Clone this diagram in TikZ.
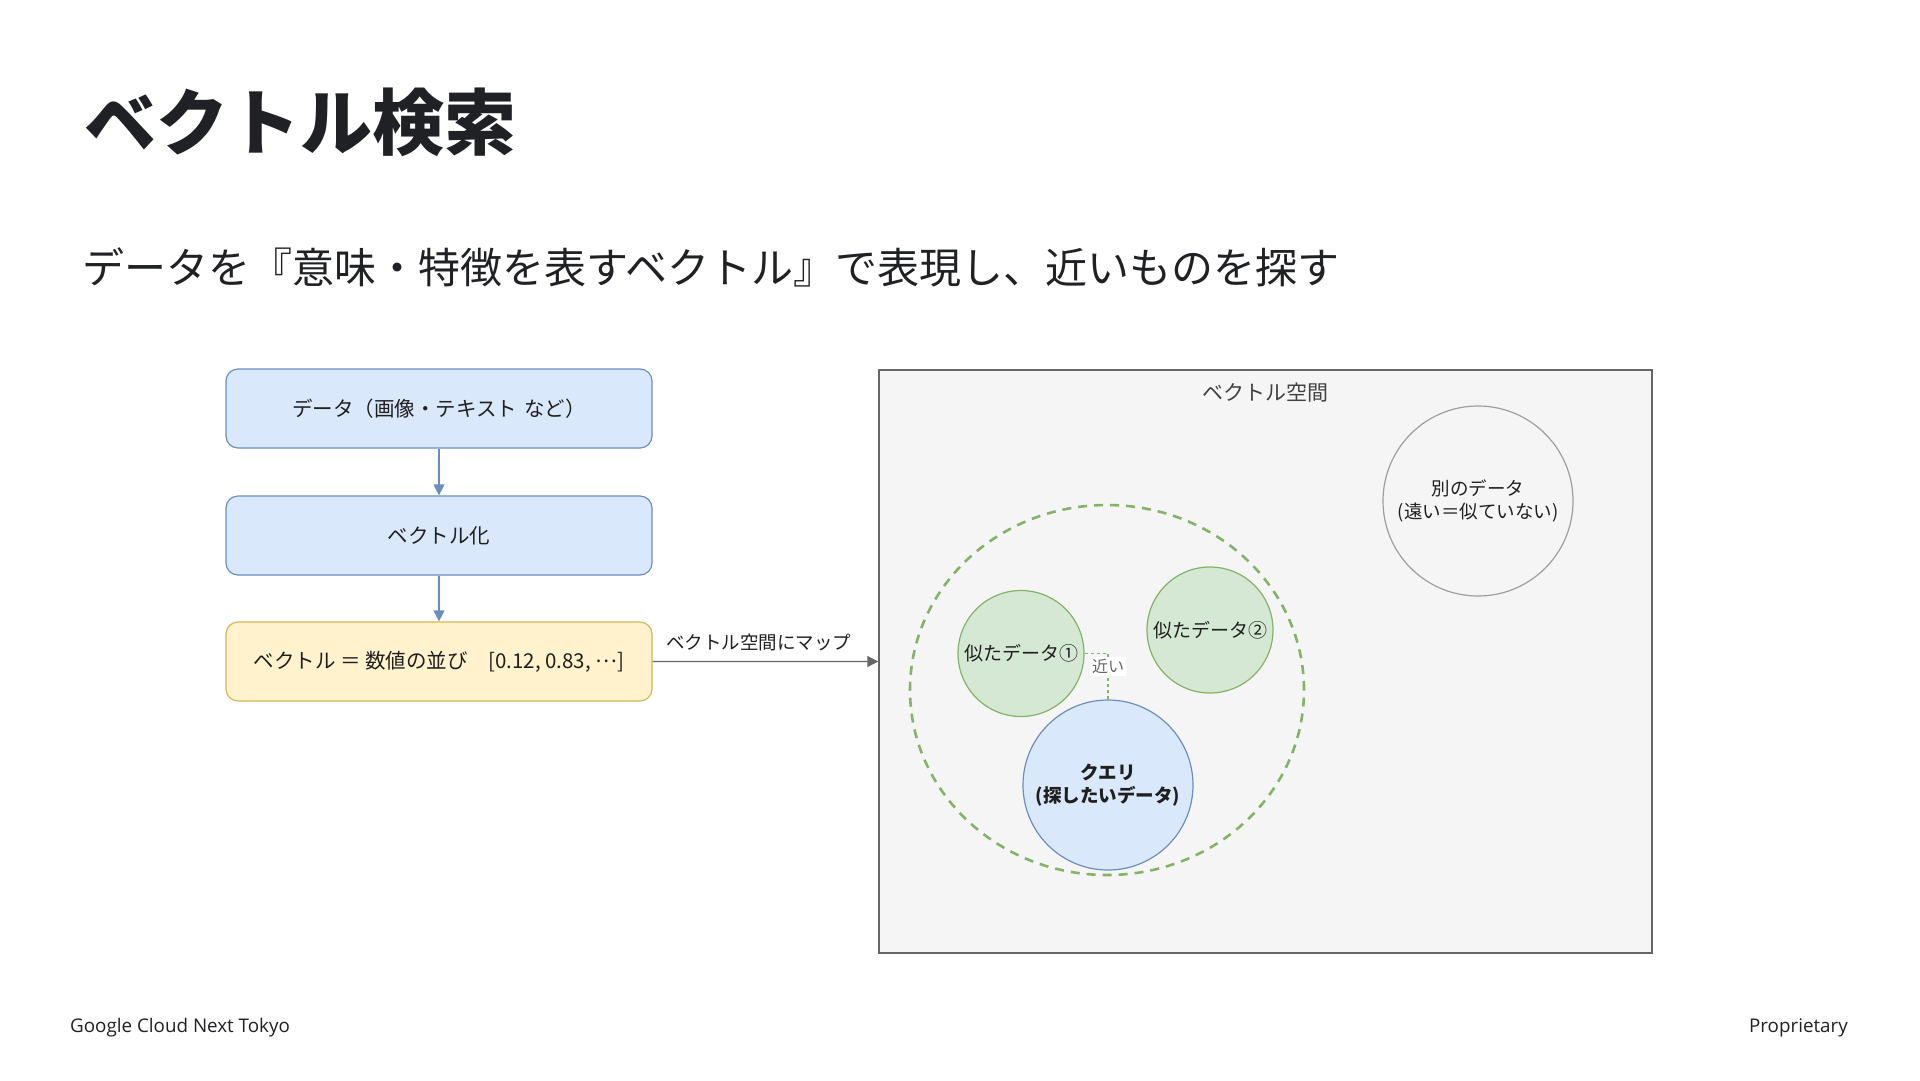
\documentclass[tikz,border=0pt]{standalone}
\usepackage{fontspec}
\setmainfont{Noto Sans CJK JP}
\newfontfamily\footfont{Open Sans}
\usetikzlibrary{positioning,arrows.meta,shapes.geometric}
\definecolor{blueFill}{HTML}{DAE8FC}
\definecolor{blueLine}{HTML}{6C8EBF}
\definecolor{yellowFill}{HTML}{FFF2CC}
\definecolor{yellowLine}{HTML}{D6B656}
\definecolor{greenFill}{HTML}{D5E8D4}
\definecolor{greenLine}{HTML}{82B366}
\definecolor{spaceFill}{HTML}{F5F5F5}
\definecolor{spaceLine}{HTML}{666666}
\definecolor{farLine}{HTML}{9E9E9E}
\definecolor{txt}{HTML}{1F1F1F}
\definecolor{titleTxt}{HTML}{202124}
\newcommand\fsize[2]{\fontsize{#1}{#2}\selectfont}

\begin{document}
\begin{tikzpicture}[
    x=1pt, y=-1pt,
    stepbox/.style = {draw=blueLine, fill=blueFill, rounded corners=12pt, line width=1.2pt,
        minimum width=426pt, minimum height=79pt, font=\fsize{20.5}{24}, text=txt},
    vecbox/.style = {stepbox, draw=yellowLine, fill=yellowFill},
    flow/.style = {-{Stealth[length=11pt,width=11pt,inset=0pt]}, draw=blueLine, line width=1.2pt},
    maparrow/.style = {-{Stealth[length=11pt,width=11pt,inset=0pt]}, draw=spaceLine, line width=1.2pt},
    maplbl/.style = {fill=white, inner sep=2pt, font=\fsize{18.5}{22}, text=txt},
    space/.style = {draw=spaceLine, fill=spaceFill, line width=1.5pt,
        minimum width=773pt, minimum height=583pt},
    cluster/.style = {ellipse, draw=greenLine, dash pattern=on 9pt off 7pt, line width=2.6pt,
        minimum width=394pt, minimum height=370pt},
    simdata/.style = {circle, draw=greenLine, fill=greenFill, line width=1.2pt, inner sep=0pt,
        minimum size=126pt, font=\fsize{19}{23}, text=txt, align=center},
    querydata/.style = {simdata, draw=blueLine, fill=blueFill, minimum size=170pt,
        font=\bfseries\fsize{18.5}{23}},
    fardata/.style = {simdata, draw=farLine, fill=none, minimum size=190pt, font=\fsize{18.5}{23}},
    nearline/.style = {draw=greenLine, dash pattern=on 3pt off 3pt, line width=1.2pt},
    nearlbl/.style = {fill=white, inner sep=2pt, font=\fsize{16}{19}, text=spaceLine}
  ]
  \useasboundingbox[fill=white] (0,0) rectangle (1920,1080);

  \node[anchor=west, inner sep=0pt, font=\bfseries\fsize{72}{86}, text=titleTxt] (title) at (84,122) {ベクトル検索};
  \node[anchor=west, inner sep=0pt, font=\fsize{42}{50}, text=titleTxt] (subtitle) at (82,267)
    {データを『意味・特徴を表すベクトル』で表現し、近いものを探す};

  % pipeline
  \node[stepbox] (data) at (439,408.5) {データ（画像・テキスト\,\,など）};
  \node[stepbox, below=46.8pt of data] (vectorize) {ベクトル化};
  \node[vecbox, below=45.8pt of vectorize] (vector) {ベクトル ＝ 数値の並び　[0.12, 0.83, \raisebox{0.3em}{…}]};
  \draw[flow] (data) -- (vectorize);
  \draw[flow] (vectorize) -- (vector);

  % vector space
  \node[space] (space) at (1265.5,661.5) {};
  \node[font=\fsize{21}{25}, text=txt!85] (spacelbl) at (1265,393) {ベクトル空間};
  \draw[maparrow] (vector.east) -- node[maplbl, above=8pt, pos=0.47] {ベクトル空間にマップ} (space.west);

  \node[cluster] (near) at (1107,690) {};
  \node[simdata] (sim1) at (1021,653.5) {似たデータ①};
  \node[simdata] (sim2) at (1210,630) {似たデータ②};
  \node[querydata] (query) at (1108,785) {クエリ\\(探したいデータ)};
  \node[fardata] (other) at (1478,501) {別のデータ\\(遠い＝似ていない)};
  \draw[nearline] (sim1.east) -| node[nearlbl, pos=0.64] {近い} (query.north);

  % footer
  \node[anchor=west, inner sep=0pt, font=\footfont\fsize{18.8}{22}, text=titleTxt] (event) at (70,1028) {Google Cloud Next Tokyo};
  \node[anchor=east, inner sep=0pt, font=\footfont\fsize{18.8}{22}, text=titleTxt] (prop) at (1848,1028) {Proprietary};
\end{tikzpicture}
\end{document}
